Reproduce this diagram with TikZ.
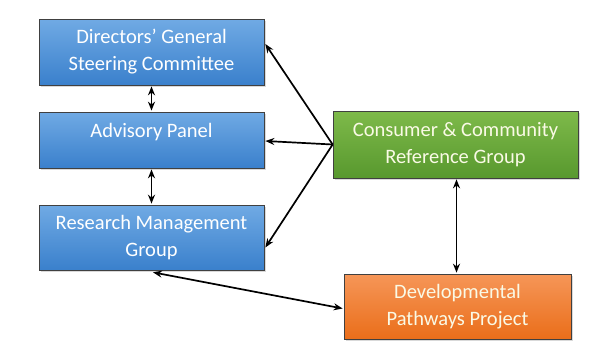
\documentclass[tikz,border=0pt]{standalone}
\usepackage{fontspec}
\setmainfont{Carlito}
\usetikzlibrary{arrows.meta,shadows}
\begin{document}
\begin{tikzpicture}[x=1pt,y=1pt,
  box/.style={draw=black!75,line width=0.7pt,minimum width=225pt,minimum height=66pt,
    align=center,text=white,font=\fontsize{20.5}{27}\selectfont,inner sep=2pt,
    drop shadow={shadow xshift=1.5pt,shadow yshift=-1.5pt,opacity=0.3}},
  conn/.style={line width=1.7pt,-{Stealth[length=9pt,width=7pt]}},
  biconn/.style={line width=1.7pt,{Stealth[length=9pt,width=7pt]}-{Stealth[length=9pt,width=7pt]}}
]
\definecolor{btop}{RGB}{112,170,228}
\definecolor{bbot}{RGB}{58,128,204}
\definecolor{gtop}{RGB}{126,186,74}
\definecolor{gbot}{RGB}{88,152,46}
\definecolor{otop}{RGB}{246,150,88}
\definecolor{obot}{RGB}{234,110,26}
\definecolor{ctext}{RGB}{250,250,230}
\useasboundingbox (0,0) rectangle (612,360);
\tikzset{bb/.style={box,top color=btop,bottom color=bbot},
         gb/.style={box,top color=gtop,bottom color=gbot,text=ctext},
         ob/.style={box,top color=otop,bottom color=obot,text=ctext}}
\node[bb,minimum height=66pt] (dgsc) at (151.5,308) {Directors’ General\\Steering Committee};
\node[bb,minimum height=56pt] (ap) at (151.5,220) {\raisebox{8pt}[0.7em][0.2em]{Advisory Panel}};
\node[bb,minimum height=65pt] (rmg) at (151.5,122.5) {Research Management\\Group};
\node[gb,minimum width=245pt,minimum height=67pt] (ccrg) at (455.5,215.5) {Consumer \& Community\\Reference Group};
\node[ob,minimum width=227pt,minimum height=65pt] (dpp) at (457.5,53.5) {Developmental\\Pathways Project};
\draw[biconn] ([yshift=-1pt]dgsc.south) -- ([yshift=1pt]ap.north);
\draw[biconn] ([yshift=-1pt]ap.south) -- ([yshift=1pt]rmg.north);
\coordinate (c) at (ccrg.west);
\draw[conn] (c) -- ([xshift=1pt,yshift=8pt]dgsc.east);
\draw[conn] (c) -- ([xshift=1pt,yshift=-1pt]ap.east);
\draw[conn] (c) -- ([xshift=1pt,yshift=-10pt]rmg.east);
\draw[biconn] ([xshift=1pt,yshift=-1pt]ccrg.south) -- ([xshift=-1pt,yshift=1pt]dpp.north);
\draw[biconn] ([xshift=1.5pt,yshift=-2pt]rmg.south) -- ([xshift=-1pt,yshift=-2pt]dpp.west);
\end{tikzpicture}
\end{document}
